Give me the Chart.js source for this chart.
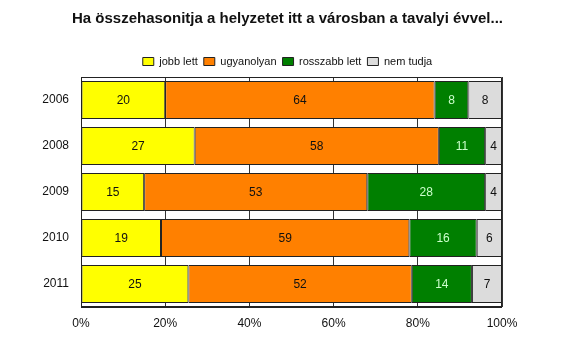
<!DOCTYPE html>
<html>
<head>
<meta charset="utf-8">
<script src="https://cdn.jsdelivr.net/npm/chart.js@4/dist/chart.umd.min.js"></script>
<style>
  html, body { margin: 0; padding: 0; background: #fff; }
  #wrap { width: 575px; height: 338px; position: relative; }
</style>
</head>
<body>
<div id="wrap"><canvas id="chart" width="575" height="338"></canvas></div>
<script>
/* ── DATA ─────────────────────────────────────────────── */
const years      = ["2006", "2008", "2009", "2010", "2011"];
const jobbLett   = [20, 27, 15, 19, 25];
const ugyanolyan = [64, 58, 53, 59, 52];
const rosszabb   = [8, 11, 28, 16, 14];
const nemTudja   = [8, 4, 4, 6, 7];
const seriesNames = ["jobb lett", "ugyanolyan", "rosszabb lett", "nem tudja"];
const titleText  = "Ha összehasonitja a helyzetet itt a városban a tavalyi évvel...";

const FONT = "'Liberation Sans', Arial, sans-serif";

/* rows are shown as 100% stacks */
const rowTotals = years.map((_, i) => jobbLett[i] + ugyanolyan[i] + rosszabb[i] + nemTudja[i]);
const toPct = arr => arr.map((v, i) => v / rowTotals[i] * 100);

const raw    = [jobbLett, ugyanolyan, rosszabb, nemTudja];
const fills  = ["#ffff00", "#ff8000", "#007f00", "#dcdcdc"];
const labelC = ["#111", "#111", "#ccffcc", "#111"];

/* ── PLUGINS ──────────────────────────────────────────── */
const valueLabels = {
  id: "valueLabels",
  afterDatasetsDraw(chart) {
    const ctx = chart.ctx;
    ctx.save();
    ctx.font = `12px ${FONT}`;
    ctx.textAlign = "center";
    ctx.textBaseline = "middle";
    chart.data.datasets.forEach((ds, di) => {
      chart.getDatasetMeta(di).data.forEach((el, i) => {
        ctx.fillStyle = labelC[di];
        ctx.fillText(String(raw[di][i]), (el.x + el.base) / 2, el.y + 1);
      });
    });
    ctx.restore();
  }
};

const frame = {
  id: "frame",
  afterDraw(chart) {
    const { left, right, top, bottom } = chart.chartArea;
    const ctx = chart.ctx;
    ctx.save();
    ctx.strokeStyle = "#222";
    ctx.lineWidth = 1;
    ctx.beginPath();
    ctx.moveTo(left + 0.5, bottom);
    ctx.lineTo(left + 0.5, top + 0.5);
    ctx.lineTo(right - 0.5, top + 0.5);
    ctx.lineTo(right - 0.5, bottom);
    ctx.stroke();
    ctx.lineWidth = 2;
    ctx.beginPath();
    ctx.moveTo(left, bottom);
    ctx.lineTo(right, bottom);
    ctx.stroke();
    ctx.restore();
  }
};

/* ── CHART ────────────────────────────────────────────── */
new Chart(document.getElementById("chart"), {
  type: "bar",
  data: {
    labels: years,
    datasets: raw.map((arr, i) => ({
      label: seriesNames[i],
      data: toPct(arr),
      backgroundColor: fills[i],
      borderColor: "#222",
      borderWidth: 1,
      borderSkipped: false,
      categoryPercentage: 1,
      barPercentage: 0.83
    }))
  },
  options: {
    indexAxis: "y",
    responsive: false,
    animation: false,
    layout: { padding: 0 },
    plugins: {
      tooltip: { enabled: false },
      title: {
        display: true,
        text: titleText,
        color: "#111",
        font: { family: FONT, size: 15, weight: "bold" },
        padding: { top: 10, bottom: 22 }
      },
      legend: {
        display: true,
        labels: {
          color: "#111",
          font: { family: FONT, size: 11 },
          boxWidth: 11,
          boxHeight: 8,
          padding: 6
        }
      }
    },
    scales: {
      x: {
        stacked: true,
        min: 0,
        max: 100,
        ticks: {
          stepSize: 20,
          color: "#111",
          font: { family: FONT, size: 12 },
          padding: 9,
          callback: v => v + "%"
        },
        grid: { color: "#333", drawTicks: false },
        border: { display: false },
        afterFit(axis) { axis.height = 31; }
      },
      y: {
        stacked: true,
        ticks: { color: "#111", font: { family: FONT, size: 12 }, padding: 12 },
        grid: { display: false, drawTicks: false },
        border: { display: false },
        afterFit(axis) { axis.width = 81; }
      },
      yRight: {
        type: "category",
        position: "right",
        ticks: { display: false },
        grid: { display: false, drawTicks: false },
        border: { display: false },
        afterFit(axis) { axis.width = 73; }
      }
    }
  },
  plugins: [valueLabels, frame]
});
</script>
</body>
</html>
